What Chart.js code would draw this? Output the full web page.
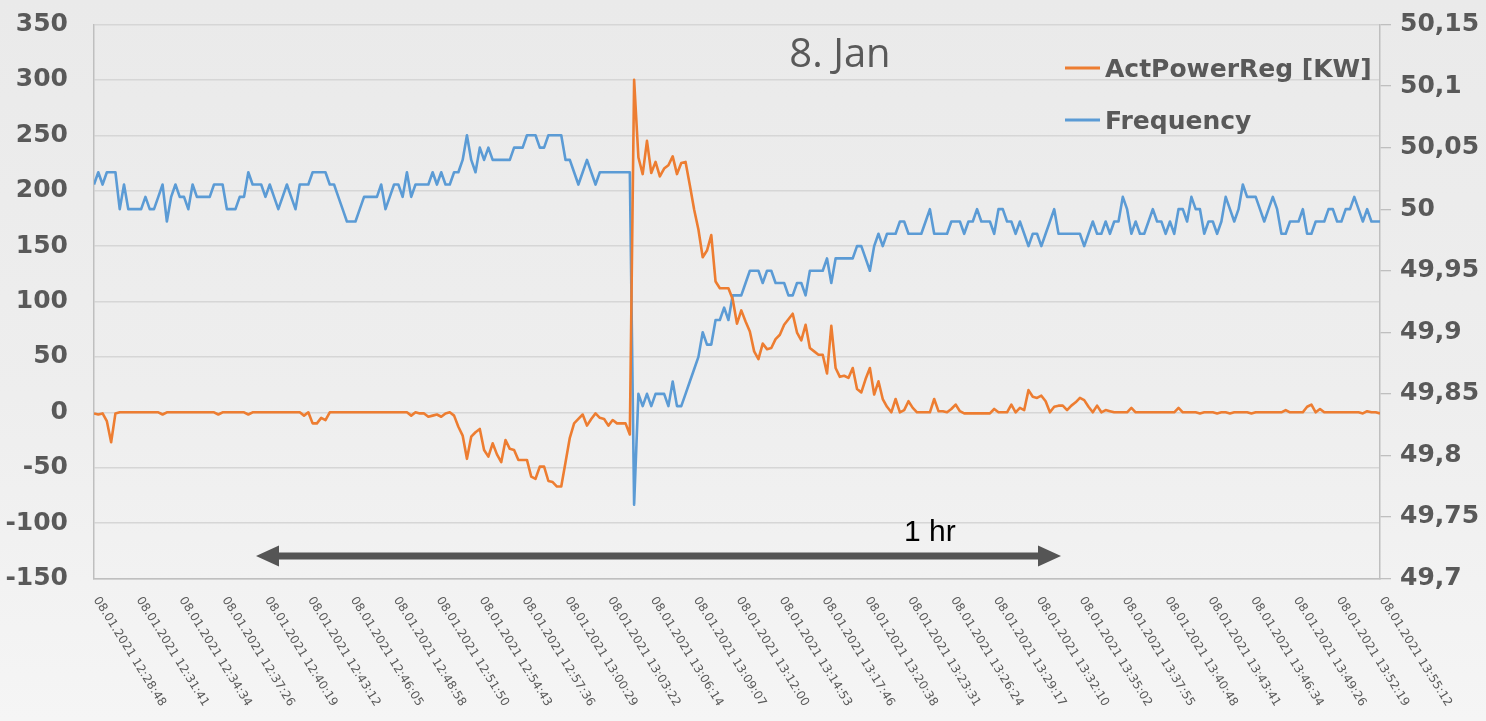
<!DOCTYPE html>
<html><head><meta charset="utf-8">
<script src="https://cdn.jsdelivr.net/npm/chart.js@4.4.1/dist/chart.umd.min.js"></script>
<style>
html,body{margin:0;padding:0;width:1486px;height:721px;overflow:hidden;
background:linear-gradient(180deg,#eaeaea 0%,#eeeeee 55%,#f5f5f5 100%);}
#wrap{position:relative;width:1486px;height:721px;}
</style></head><body><div id="wrap"><canvas id="c" width="1486" height="721"></canvas></div>
<script>
const datePrefix = '08.01.2021 ';
const tickLabels = ['12:28:48','12:31:41','12:34:34','12:37:26','12:40:19','12:43:12','12:46:05','12:48:58','12:51:50','12:54:43','12:57:36','13:00:29','13:03:22','13:06:14','13:09:07','13:12:00','13:14:53','13:17:46','13:20:38','13:23:31','13:26:24','13:29:17','13:32:10','13:35:02','13:37:55','13:40:48','13:43:41','13:46:34','13:49:26','13:52:19','13:55:12'];
const pointsPerTick = 10;

const powerKW = [
-1,-2,-1,-8,-27,-1,0,0,0,0,
0,0,0,0,0,0,-2,0,0,0,
0,0,0,0,0,0,0,0,0,-2,
0,0,0,0,0,0,-2,0,0,0,
0,0,0,0,0,0,0,0,0,-3,
0,-10,-10,-5,-7,0,0,0,0,0,
0,0,0,0,0,0,0,0,0,0,
0,0,0,0,-3,0,-1,-1,-4,-3,
-2,-4,-1,0,-3,-13,-21,-42,-22,-18,
-15,-34,-40,-28,-38,-45,-25,-33,-34,-43,
-43,-43,-58,-60,-49,-49,-62,-63,-67,-67,
-45,-23,-10,-6,-2,-12,-6,-1,-5,-6,
-12,-7,-10,-10,-10,-20,300,230,215,245,
216,226,213,220,223,231,215,225,226,205,
183,165,140,146,160,118,112,112,112,102,
80,92,82,73,55,48,62,57,58,66,
70,79,84,89,72,65,79,58,55,52,
52,35,78,40,32,33,31,40,21,18,
30,40,16,28,12,5,0,12,0,2,
10,4,0,0,0,0,12,1,1,0,
3,7,1,-1,-1,-1,-1,-1,-1,-1,
3,0,0,0,7,0,4,2,20,14,
13,15,10,0,5,6,6,2,6,9,
13,11,5,0,6,0,2,1,0,0,
0,0,4,0,0,0,0,0,0,0,
0,0,0,4,0,0,0,0,-1,0,
0,0,-1,0,0,-1,0,0,0,0,
-1,0,0,0,0,0,0,0,2,0,
0,0,0,5,7,0,3,0,0,0,
0,0,0,0,0,0,-1,1,0,0,
-1];

const frequencyHz = [
50.02,50.03,50.02,50.03,50.03,50.03,50.00,50.02,50.00,50.00,
50.00,50.00,50.01,50.00,50.00,50.01,50.02,49.99,50.01,50.02,
50.01,50.01,50.00,50.02,50.01,50.01,50.01,50.01,50.02,50.02,
50.02,50.00,50.00,50.00,50.01,50.01,50.03,50.02,50.02,50.02,
50.01,50.02,50.01,50.00,50.01,50.02,50.01,50.00,50.02,50.02,
50.02,50.03,50.03,50.03,50.03,50.02,50.02,50.01,50.00,49.99,
49.99,49.99,50.00,50.01,50.01,50.01,50.01,50.02,50.00,50.01,
50.02,50.02,50.01,50.03,50.01,50.02,50.02,50.02,50.02,50.03,
50.02,50.03,50.02,50.02,50.03,50.03,50.04,50.06,50.04,50.03,
50.05,50.04,50.05,50.04,50.04,50.04,50.04,50.04,50.05,50.05,
50.05,50.06,50.06,50.06,50.05,50.05,50.06,50.06,50.06,50.06,
50.04,50.04,50.03,50.02,50.03,50.04,50.03,50.02,50.03,50.03,
50.03,50.03,50.03,50.03,50.03,50.03,49.76,49.85,49.84,49.85,
49.84,49.85,49.85,49.85,49.84,49.86,49.84,49.84,49.85,49.86,
49.87,49.88,49.90,49.89,49.89,49.91,49.91,49.92,49.91,49.93,
49.93,49.93,49.94,49.95,49.95,49.95,49.94,49.95,49.95,49.94,
49.94,49.94,49.93,49.93,49.94,49.94,49.93,49.95,49.95,49.95,
49.95,49.96,49.94,49.96,49.96,49.96,49.96,49.96,49.97,49.97,
49.96,49.95,49.97,49.98,49.97,49.98,49.98,49.98,49.99,49.99,
49.98,49.98,49.98,49.98,49.99,50.00,49.98,49.98,49.98,49.98,
49.99,49.99,49.99,49.98,49.99,49.99,50.00,49.99,49.99,49.99,
49.98,50.00,50.00,49.99,49.99,49.98,49.99,49.98,49.97,49.98,
49.98,49.97,49.98,49.99,50.00,49.98,49.98,49.98,49.98,49.98,
49.98,49.97,49.98,49.99,49.98,49.98,49.99,49.98,49.99,49.99,
50.01,50.00,49.98,49.99,49.98,49.98,49.99,50.00,49.99,49.99,
49.98,49.99,49.98,50.00,50.00,49.99,50.01,50.00,50.00,49.98,
49.99,49.99,49.98,49.99,50.01,50.00,49.99,50.00,50.02,50.01,
50.01,50.01,50.00,49.99,50.00,50.01,50.00,49.98,49.98,49.99,
49.99,49.99,50.00,49.98,49.98,49.99,49.99,49.99,50.00,50.00,
49.99,49.99,50.00,50.00,50.01,50.00,49.99,50.00,49.99,49.99,
49.99];

const leftTicks = [-150,-100,-50,0,50,100,150,200,250,300,350];
const rightTicks = [49.7,49.75,49.8,49.85,49.9,49.95,50.0,50.05,50.1,50.15];
const rightTickLabels = ['49,7','49,75','49,8','49,85','49,9','49,95','50','50,05','50,1','50,15'];

const titleText = '8. Jan';
const seriesNames = ['ActPowerReg [KW]','Frequency'];
const seriesColors = ['#ED7D31','#5B9BD5'];
const spanLabel = '1 hr';

const GRAY = '#595959';
const AXIS = '#bfbfbf';

const decor = {
  id: 'decor',
  afterDraw(chart) {
    const ctx = chart.ctx;
    const xs = chart.scales.x;
    ctx.save();
    ctx.fillStyle = GRAY;
    ctx.font = '12px "DejaVu Sans"';
    ctx.textAlign = 'left';
    ctx.textBaseline = 'middle';
    tickLabels.forEach((t, k) => {
      const px = xs.getPixelForValue(k * pointsPerTick);
      ctx.save();
      ctx.translate(px + 2, 598);
      ctx.rotate(58 * Math.PI / 180);
      ctx.fillText(datePrefix + t, 0, 0);
      ctx.restore();
    });
    ctx.restore();

    ctx.save();
    ctx.fillStyle = GRAY;
    ctx.font = '40px "Open Sans"';
    ctx.textAlign = 'center';
    ctx.textBaseline = 'alphabetic';
    ctx.fillText(titleText, 840, 67);
    ctx.restore();

    ctx.save();
    ctx.font = 'bold 25px "DejaVu Sans"';
    ctx.textAlign = 'left';
    ctx.textBaseline = 'alphabetic';
    const ly = [68, 120];
    seriesNames.forEach((n, k) => {
      ctx.strokeStyle = seriesColors[k];
      ctx.lineWidth = 3;
      ctx.beginPath();
      ctx.moveTo(1065, ly[k]);
      ctx.lineTo(1100, ly[k]);
      ctx.stroke();
      ctx.fillStyle = GRAY;
      ctx.fillText(n, 1105, ly[k] + 9);
    });
    ctx.restore();

    ctx.save();
    const ay = 556, x1 = 256, x2 = 1061, hl = 23, hh = 10.5;
    ctx.fillStyle = '#555555';
    ctx.strokeStyle = '#555555';
    ctx.lineWidth = 7;
    ctx.beginPath();
    ctx.moveTo(x1 + hl - 2, ay);
    ctx.lineTo(x2 - hl + 2, ay);
    ctx.stroke();
    ctx.beginPath();
    ctx.moveTo(x1, ay); ctx.lineTo(x1 + hl, ay - hh); ctx.lineTo(x1 + hl, ay + hh); ctx.closePath();
    ctx.fill();
    ctx.beginPath();
    ctx.moveTo(x2, ay); ctx.lineTo(x2 - hl, ay - hh); ctx.lineTo(x2 - hl, ay + hh); ctx.closePath();
    ctx.fill();
    ctx.fillStyle = '#000000';
    ctx.font = '30px "Liberation Sans"';
    ctx.textAlign = 'left';
    ctx.fillText(spanLabel, 904, 541);
    ctx.restore();
  }
};

new Chart(document.getElementById('c'), {
  type: 'line',
  data: {
    datasets: [
      {
        label: seriesNames[0],
        data: powerKW.map((v, i) => ({x: i, y: v})),
        borderColor: seriesColors[0],
        backgroundColor: seriesColors[0],
        borderWidth: 2.6,
        pointRadius: 0,
        tension: 0,
        borderJoinStyle: 'round',
        yAxisID: 'y'
      },
      {
        label: seriesNames[1],
        data: frequencyHz.map((v, i) => ({x: i, y: v})),
        borderColor: seriesColors[1],
        backgroundColor: seriesColors[1],
        borderWidth: 2.6,
        pointRadius: 0,
        tension: 0,
        borderJoinStyle: 'round',
        yAxisID: 'y1'
      }
    ]
  },
  options: {
    responsive: false,
    devicePixelRatio: 1,
    animation: false,
    layout: {padding: {top: 24.5, left: 0, right: 0, bottom: 0}},
    plugins: {legend: {display: false}, tooltip: {enabled: false}, title: {display: false}},
    scales: {
      x: {
        type: 'linear',
        min: 0,
        max: (tickLabels.length - 1) * pointsPerTick,
        ticks: {display: false},
        grid: {display: false},
        border: {display: true, color: AXIS, width: 1.5},
        afterFit(s) { s.height = 142.5; }
      },
      y: {
        position: 'left',
        min: -150, max: 350,
        afterBuildTicks(s) { s.ticks = leftTicks.map(v => ({value: v})); },
        ticks: {color: GRAY, font: {family: 'DejaVu Sans', weight: 'bold', size: 25}, padding: 0},
        grid: {color: '#d6d6d6', lineWidth: 1.4, drawTicks: true, tickLength: 26, tickColor: 'rgba(0,0,0,0)'},
        border: {display: true, color: AXIS, width: 1.5},
        afterFit(s) { s.width = 94; }
      },
      y1: {
        position: 'right',
        min: 49.7, max: 50.15,
        afterBuildTicks(s) { s.ticks = rightTicks.map(v => ({value: v})); },
        ticks: {
          color: GRAY, font: {family: 'DejaVu Sans', weight: 'bold', size: 25}, padding: 9,
          callback: (v, idx) => rightTickLabels[idx]
        },
        grid: {drawOnChartArea: false, drawTicks: true, tickLength: 11, color: AXIS, lineWidth: 1.3},
        border: {display: true, color: AXIS, width: 1.5},
        afterFit(s) { s.width = 106; }
      }
    }
  },
  plugins: [decor]
});
</script>
</body></html>
